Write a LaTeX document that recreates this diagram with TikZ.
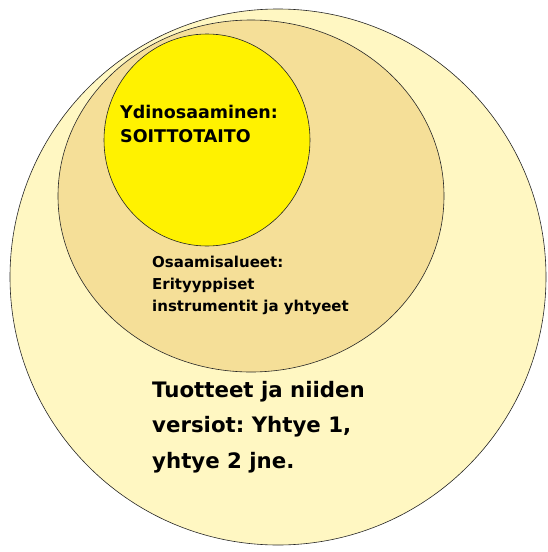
\documentclass[tikz,border=0pt]{standalone}
\usepackage{fontspec}
\setmainfont{DejaVu Sans}
\frenchspacing
\definecolor{outerfill}{HTML}{FFF7C2}
\definecolor{areafill}{HTML}{F5DF98}
\definecolor{corefill}{HTML}{FFF200}
\begin{document}
\begin{tikzpicture}[x=1pt,y=-1pt,
  ring/.style={draw=black!85,line width=0.6pt},
  circlabel/.style={anchor=north west,align=left,inner sep=0pt}]
\useasboundingbox (0,0) rectangle (547,552);
\fill[white] (0,0) rectangle (547,552);
% nested circles
\draw[ring,fill=outerfill] (278,277) ellipse (268 and 268);
\draw[ring,fill=areafill] (251,196) ellipse (193 and 176);
\draw[ring,fill=corefill] (207,140) ellipse (103 and 106);
% texts
\node[circlabel,font=\bfseries\fontsize{17.5}{24}\selectfont] (core) at (120,105)
  {Ydinosaaminen:\\SOITTOTAITO};
\node[circlabel,font=\bfseries\fontsize{15}{22}\selectfont] (areas) at (152,256)
  {Osaamisalueet:\\Erityyppiset\\instrumentit ja yhtyeet};
\node[circlabel,font=\bfseries\fontsize{21.3}{35.5}\selectfont] (products) at (152,381)
  {Tuotteet ja niiden\\versiot: Yhtye 1,\\yhtye 2 jne.};
\end{tikzpicture}
\end{document}
